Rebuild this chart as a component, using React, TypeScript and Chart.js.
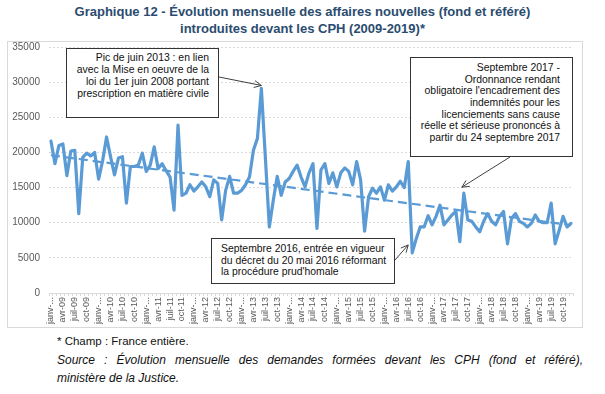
import React, { useEffect, useRef } from 'react';
import { Chart, registerables } from 'chart.js';

Chart.register(...registerables);

// ---- data ----
const monthNames = ['janv', 'févr', 'mars', 'avr', 'mai', 'juin', 'juil', 'août', 'sept', 'oct', 'nov', 'déc'];
const yearCodes = ['09', '10', '11', '12', '13', '14', '15', '16', '17', '18', '19'];

const v2009 = [21600, 18400, 21000, 21200, 16700, 20200, 20300, 11300, 19300, 19900, 19500, 20000];
const v2010 = [16200, 18800, 22200, 19400, 16800, 19200, 19400, 12800, 18000, 18000, 18200, 19900];
const v2011 = [17300, 18200, 20800, 17700, 18400, 17400, 16500, 11800, 23900, 13900, 14200, 15400];
const v2012 = [14500, 15100, 15800, 15100, 13700, 16100, 15600, 10400, 14600, 16600, 14200, 14200];
const v2013 = [14600, 15400, 16500, 20300, 22000, 29100, 19300, 9400, 13200, 16600, 13900, 15800];
const v2014 = [16300, 17300, 18200, 16500, 15100, 17100, 18400, 9200, 17500, 18400, 15600, 17100];
const v2015 = [15100, 17100, 17800, 17300, 15400, 18700, 16100, 8800, 13700, 14900, 14200, 15100];
const v2016 = [13200, 15400, 14500, 15100, 15900, 15000, 18700, 5700, 7700, 9400, 9400, 11000];
const v2017 = [9700, 10900, 12500, 9700, 10400, 11100, 11600, 7300, 14200, 10400, 10200, 9400];
const v2018 = [8700, 10200, 11300, 10200, 9700, 10900, 11600, 7000, 10600, 11300, 10200, 9900];
const v2019 = [9400, 9900, 11100, 10200, 10000, 10000, 12800, 7000, 8900, 10900, 9400, 9900];

// dashed linear trend: value at first and last month
const trendEnds = [19600, 9650];

const yTicks = [0, 5000, 10000, 15000, 20000, 25000, 30000, 35000];

const categories = yearCodes.flatMap((y) => monthNames.map((m) => `${m}-${y}`));
const values = [v2009, v2010, v2011, v2012, v2013, v2014, v2015, v2016, v2017, v2018, v2019].flat();
const trend = values.map((_, i) => (i === 0 ? trendEnds[0] : i === values.length - 1 ? trendEnds[1] : null));

// annotation arrows: target category index (arrow tip near that point), start in canvas px
const arrowDefs = [
  { from: [219, 77], index: 53, dx: 0, dy: -3 },
  { from: [395, 260], index: 91, dx: -4, dy: -8 },
  { from: [510, 157], index: 104, dx: -2, dy: -6 },
];

const LINE = '#5b9bd5';
const FONT = '"Liberation Sans", Arial, Helvetica, sans-serif';

const arrowPlugin = {
  id: 'annotArrows',
  afterDatasetsDraw(chart: any) {
    const { ctx, scales } = chart;
    const x = scales.x;
    const y = scales.y;
    ctx.save();
    ctx.strokeStyle = '#404040';
    ctx.lineWidth = 1;
    arrowDefs.forEach((a) => {
      const tx = x.getPixelForValue(a.index) + a.dx;
      const ty = y.getPixelForValue(values[a.index]) + a.dy;
      const [fx, fy] = a.from;
      ctx.beginPath();
      ctx.moveTo(fx, fy);
      ctx.lineTo(tx, ty);
      ctx.stroke();
      const ang = Math.atan2(ty - fy, tx - fx);
      const len = 8;
      const spread = 0.45;
      ctx.beginPath();
      ctx.moveTo(tx - len * Math.cos(ang - spread), ty - len * Math.sin(ang - spread));
      ctx.lineTo(tx, ty);
      ctx.lineTo(tx - len * Math.cos(ang + spread), ty - len * Math.sin(ang + spread));
      ctx.stroke();
    });
    ctx.restore();
  },
};

const boxStyle: React.CSSProperties = {
  position: 'absolute',
  background: '#fff',
  border: '1px solid #333',
  boxSizing: 'border-box',
  fontSize: 10.4,
  color: '#111',
  zIndex: 2,
};

export default function App() {
  const ref = useRef<HTMLCanvasElement>(null);

  useEffect(() => {
    Chart.defaults.font.family = FONT;
    const chart = new Chart(ref.current as HTMLCanvasElement, {
      type: 'line',
      data: {
        labels: categories,
        datasets: [
          {
            label: 'Tendance',
            data: trend,
            borderColor: LINE,
            borderWidth: 2.2,
            borderDash: [9, 5],
            pointRadius: 0,
            spanGaps: true,
            fill: false,
          },
          {
            label: 'Affaires nouvelles',
            data: values,
            borderColor: LINE,
            borderWidth: 3.2,
            pointRadius: 0,
            tension: 0,
            borderJoinStyle: 'round',
            borderCapStyle: 'round',
            fill: false,
          },
        ],
      },
      options: {
        responsive: false,
        devicePixelRatio: 1,
        animation: false,
        events: [],
        layout: { padding: { left: 9, right: 32, top: 47, bottom: 61 } },
        plugins: { legend: { display: false }, tooltip: { enabled: false }, title: { display: false } },
        scales: {
          x: {
            type: 'category',
            offset: true,
            grid: {
              display: true,
              drawOnChartArea: false,
              drawTicks: true,
              tickLength: 3,
              color: '#d9d9d9',
              offset: true,
            },
            border: { display: true, color: '#d9d9d9' },
            ticks: {
              autoSkip: false,
              minRotation: 90,
              maxRotation: 90,
              padding: 1,
              color: '#595959',
              font: { size: 9, family: FONT },
              callback: (_v: any, i: number) =>
                i % 3 === 0 ? (i % 12 === 0 ? 'janv-...' : categories[i]) : '',
            },
            afterFit: (s: any) => {
              s.height = 40;
            },
          },
          y: {
            min: 0,
            max: 35000,
            afterBuildTicks: (s: any) => {
              s.ticks = yTicks.map((v) => ({ value: v }));
            },
            grid: { color: '#d9d9d9', drawTicks: false, lineWidth: 1 },
            border: { display: false, dash: [2, 2] },
            ticks: {
              padding: 9,
              color: '#595959',
              font: { size: 10, family: FONT },
              callback: (v: any) => String(v),
            },
            afterFit: (s: any) => {
              s.width = 40;
            },
          },
        },
      },
      plugins: [arrowPlugin],
    } as any);
    return () => chart.destroy();
  }, []);

  return (
    <div
      style={{
        position: 'absolute',
        left: 0,
        top: 0,
        width: 605,
        height: 394,
        background: '#fff',
        overflow: 'hidden',
        fontFamily: FONT,
      }}
    >
      <div
        style={{
          position: 'absolute',
          left: 0,
          top: 3,
          width: 605,
          textAlign: 'center',
          fontWeight: 'bold',
          fontSize: 13,
          lineHeight: '17px',
          color: '#2b4c6f',
        }}
      >
        Graphique 12 - Évolution mensuelle des affaires nouvelles (fond et référé)
        <br />
        introduites devant les CPH (2009-2019)*
      </div>
      <div
        style={{
          position: 'absolute',
          left: 7,
          top: 41,
          width: 576,
          height: 287,
          border: '1px solid #d9d9d9',
          boxSizing: 'border-box',
        }}
      />
      <canvas
        ref={ref}
        width={605}
        height={394}
        style={{ position: 'absolute', left: 0, top: 0, width: 605, height: 394, zIndex: 1 }}
      />
      <div
        style={{
          ...boxStyle,
          left: 66,
          top: 48,
          width: 153,
          height: 70,
          textAlign: 'right',
          padding: '3px 9px 0 0',
          lineHeight: '12px',
        }}
      >
        Pic de juin 2013 : en lien
        <br />
        avec la Mise en oeuvre de la
        <br />
        loi du 1er juin 2008 portant
        <br />
        prescription en matière civile
      </div>
      <div
        style={{
          ...boxStyle,
          left: 211,
          top: 238,
          width: 184,
          height: 46,
          textAlign: 'left',
          padding: '4px 0 0 9px',
          lineHeight: '11.6px',
        }}
      >
        Septembre 2016, entrée en vigueur
        <br />
        du décret du 20 mai 2016 réformant
        <br />
        la procédure prud'homale
      </div>
      <div
        style={{
          ...boxStyle,
          left: 410,
          top: 57,
          width: 163,
          height: 100,
          textAlign: 'right',
          padding: '4px 12px 0 0',
          lineHeight: '11.67px',
        }}
      >
        Septembre 2017 -
        <br />
        Ordonnance rendant
        <br />
        obligatoire l'encadrement des
        <br />
        indemnités pour les
        <br />
        licenciements sans cause
        <br />
        réelle et sérieuse prononcés à
        <br />
        partir du 24 septembre 2017
      </div>
      <div
        style={{
          position: 'absolute',
          left: 57,
          top: 332,
          fontSize: 11.5,
          lineHeight: '18px',
          color: '#111',
        }}
      >
        * Champ : France entière.
      </div>
      <div
        style={{
          position: 'absolute',
          left: 57,
          top: 351,
          width: 526,
          fontSize: 12,
          lineHeight: '18px',
          fontStyle: 'italic',
          color: '#111',
          textAlign: 'justify',
          textAlignLast: 'justify',
          whiteSpace: 'nowrap',
        }}
      >
        Source : Évolution mensuelle des demandes formées devant les CPH (fond et référé),
      </div>
      <div
        style={{
          position: 'absolute',
          left: 57,
          top: 369,
          fontSize: 12,
          lineHeight: '18px',
          fontStyle: 'italic',
          color: '#111',
        }}
      >
        ministère de la Justice.
      </div>
    </div>
  );
}
